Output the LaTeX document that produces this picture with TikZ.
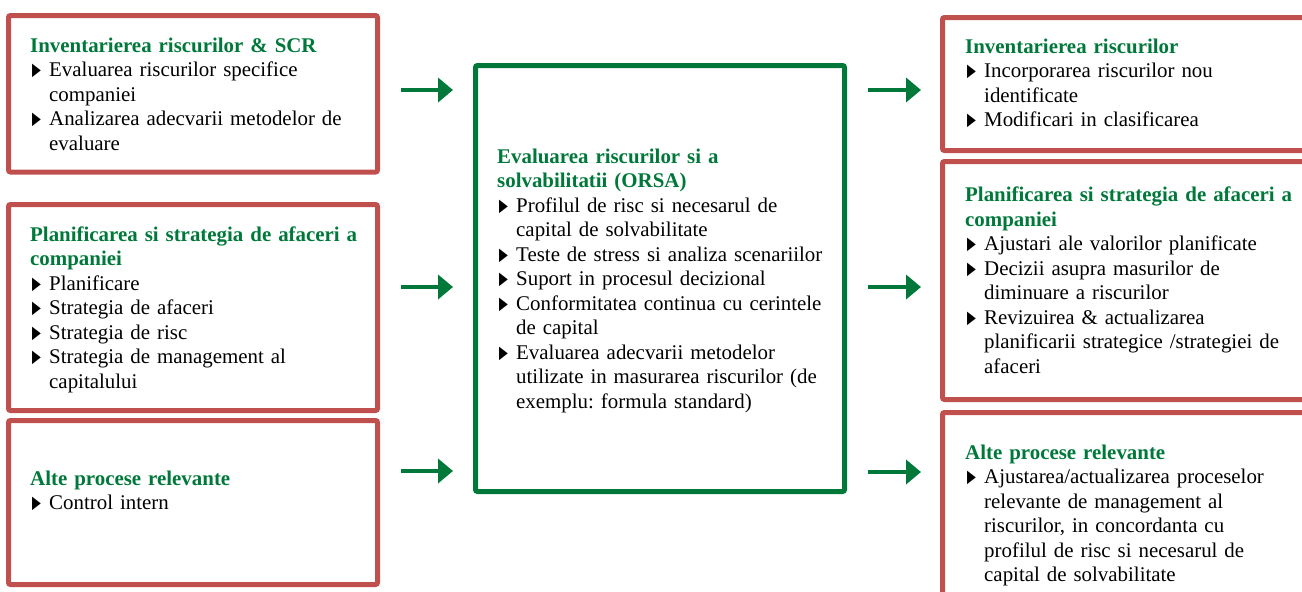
\documentclass[tikz,border=0pt]{standalone}
\usepackage{fontspec}
\setmainfont{Liberation Serif}
\newfontfamily\symfont{DejaVu Sans}
\usetikzlibrary{arrows.meta}
\definecolor{boxred}{RGB}{192,80,77}
\definecolor{orsagreen}{RGB}{0,120,58}
\newcommand\bul{\par\hangindent=19pt\hangafter=1\noindent\makebox[19pt][l]{\hspace{2pt}\raisebox{1pt}{\scalebox{0.55}[0.85]{\symfont ▶}}}}
\newcommand\ttl[1]{\noindent{\bfseries\color{orsagreen}#1}}
\newcommand\boxfont{\fontsize{20.9pt}{24.5pt}\selectfont\frenchspacing}
\begin{document}
\begin{tikzpicture}[x=1pt,y=-1pt,
  redbox/.style={draw=boxred,line width=5pt,rounded corners=2pt,fill=none,anchor=north west,inner sep=0pt,outer sep=0pt},
  greenbox/.style={draw=orsagreen,line width=5pt,rounded corners=2pt,fill=none,anchor=north west,inner sep=0pt,outer sep=0pt},
  txt/.style={anchor=base west,inner sep=0pt,text width=440pt,align=left,font=\boxfont,
    execute at begin node={\setlength{\parindent}{0pt}\setlength{\parskip}{0pt}}},
  blockarrow/.style={draw=orsagreen,line width=4.5pt,-{Triangle[length=15pt,width=24pt]}}]
\useasboundingbox (0,0) rectangle (1302,592);
\clip (0,0) rectangle (1302,592);
% boxes
\node[redbox,minimum width=369pt,minimum height=156.5pt] (b1) at (8.5,15.5) {};
\node[redbox,minimum width=369pt,minimum height=206pt] (b2) at (8.5,204.5) {};
\node[redbox,minimum width=369pt,minimum height=164pt] (b3) at (8.5,420.5) {};
\node[greenbox,minimum width=369pt,minimum height=426pt] (c) at (475.5,65.5) {};
\node[redbox,minimum width=420pt,minimum height=133pt] (r1) at (942.5,17.5) {};
\node[redbox,minimum width=420pt,minimum height=238pt] (r2) at (942.5,161.5) {};
\node[redbox,minimum width=420pt,minimum height=240pt] (r3) at (942.5,412.5) {};
% texts
\node[txt] (t1) at (30,52) {\ttl{Inventarierea riscurilor \& SCR}
\bul Evaluarea riscurilor specifice\newline companiei
\bul Analizarea adecvarii metodelor de\newline evaluare\par};
\node[txt] (t2) at (30,241) {\ttl{Planificarea si strategia de afaceri a\newline companiei}
\bul Planificare
\bul Strategia de afaceri
\bul Strategia de risc
\bul Strategia de management al\newline capitalului\par};
\node[txt] (t3) at (30,485) {\ttl{Alte procese relevante}
\bul Control intern\par};
\node[txt] (tc) at (497,163) {\ttl{Evaluarea riscurilor si a\newline solvabilitatii (ORSA)}
\bul Profilul de risc si necesarul de\newline capital de solvabilitate
\bul Teste de stress si analiza scenariilor
\bul Suport in procesul decizional
\bul Conformitatea continua cu cerintele\newline de capital
\bul Evaluarea adecvarii metodelor\newline utilizate in masurarea riscurilor (de\newline exemplu: formula standard)\par};
\node[txt] (tr1) at (965,53) {\ttl{Inventarierea riscurilor}
\bul Incorporarea riscurilor nou\newline identificate
\bul Modificari in clasificarea\par};
\node[txt] (tr2) at (965,201.5) {\ttl{Planificarea si strategia de afaceri a\newline companiei}
\bul Ajustari ale valorilor planificate
\bul Decizii asupra masurilor de\newline diminuare a riscurilor
\bul Revizuirea \& actualizarea\newline planificarii strategice /strategiei de\newline afaceri\par};
\node[txt] (tr3) at (965,459) {\ttl{Alte procese relevante}
\bul Ajustarea/actualizarea proceselor\newline relevante de management al\newline riscurilor, in concordanta cu\newline profilul de risc si necesarul de\newline capital de solvabilitate\par};
% arrows
\coordinate (la1) at (401,90);  \coordinate (lb1) at (453,90);
\coordinate (la2) at (401,287); \coordinate (lb2) at (453,287);
\coordinate (la3) at (401,471); \coordinate (lb3) at (453,471);
\coordinate (ra1) at (868,90);  \coordinate (rb1) at (921,90);
\coordinate (ra2) at (868,287); \coordinate (rb2) at (921,287);
\coordinate (ra3) at (868,472); \coordinate (rb3) at (921,472);
\draw[blockarrow] (la1) -- (lb1);
\draw[blockarrow] (la2) -- (lb2);
\draw[blockarrow] (la3) -- (lb3);
\draw[blockarrow] (ra1) -- (rb1);
\draw[blockarrow] (ra2) -- (rb2);
\draw[blockarrow] (ra3) -- (rb3);
\end{tikzpicture}
\end{document}
